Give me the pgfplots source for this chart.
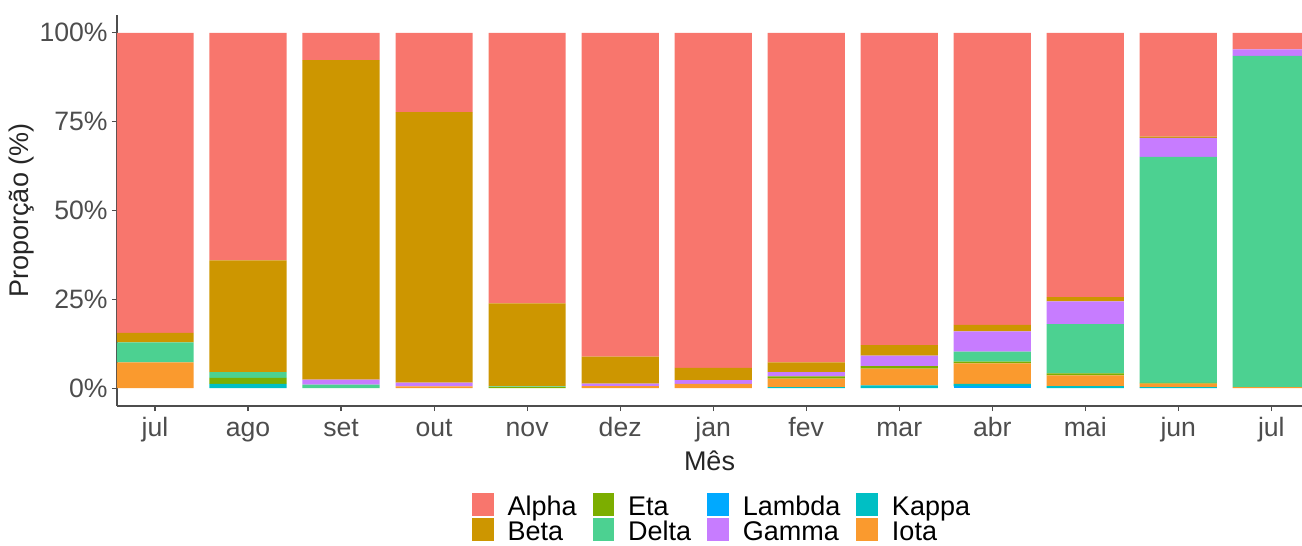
\documentclass[border=0pt]{standalone}
\usepackage{fontspec}
\setmainfont{Liberation Sans}
\usepackage{pgfplots}
\usepackage{pgfplotstable}
\pgfplotsset{compat=1.18}
\definecolor{cAlpha}{HTML}{F8766D}
\definecolor{cBeta}{HTML}{CD9600}
\definecolor{cEta}{HTML}{7CAE00}
\definecolor{cDelta}{HTML}{4CD191}
\definecolor{cLambda}{HTML}{00A9FF}
\definecolor{cGamma}{HTML}{C77CFF}
\definecolor{cKappa}{HTML}{00BFC4}
\definecolor{cIota}{HTML}{FA9A2E}
\definecolor{tickgray}{HTML}{4D4D4D}
\pgfplotstableread{
x Lambda Kappa Iota Eta Delta Gamma Beta Alpha
0  0    0    7.3  0    5.6  0    2.7  84.4
1  0    1.2  0    1.7  1.6  0    31.5 64.0
2  0    0    0    0    1.0  1.4  89.9 7.7
3  0    0    0.5  0    0    1.1  76.1 22.3
4  0    0    0    0.3  0.2  0    23.4 76.1
5  0    0    0.6  0    0    0.7  7.6  91.1
6  0    0    1.2  0    0    1.1  3.4  94.3
7  0    0.3  2.4  0.6  0    1.2  2.8  92.7
8  0    0.8  4.7  0.7  0    3.0  2.9  87.9
9  0.5  0.7  5.8  0.5  2.8  5.7  1.8  82.2
10 0    0.6  3.0  0.6  13.8 6.4  1.2  74.4
11 0    0.3  1.0  0.2  63.6 5.3  0.4  29.2
12 0    0    0.3  0    93.2 1.8  0    4.7
}\data
\newcommand\ls{\rule[-2.6pt]{0pt}{12.6pt}}
\pgfplotsset{legsq/.style={legend image code/.code={\fill[##1, draw=none] (0pt,-4.5pt) rectangle (10.8pt,7pt);}}}
\begin{document}
\begin{tikzpicture}
\begin{axis}[
  scale only axis, width=592.5pt, height=195.5pt,
  xmin=-0.409, xmax=12.33, ymin=-5, ymax=105,
  ybar stacked, bar width=0.83,
  axis lines=left, axis line style={-, draw=tickgray, line width=0.6pt},
  xtick={0,...,12},
  xticklabels={jul,ago,set,out,nov,dez,jan,fev,mar,abr,mai,jun,jul},
  ytick={0,25,50,75,100},
  yticklabels={0\%,25\%,50\%,75\%,100\%},
  tick align=outside, major tick length=2.5pt,
  tick style={draw=tickgray, line width=0.6pt},
  /pgf/number format/assume math mode=true,
  ticklabel style={font=\fontsize{13.3}{15}\selectfont, text=tickgray},
  xticklabel style={inner sep=3pt, text height=9.6pt, text depth=2.8pt},
  yticklabel style={inner sep=2pt},
  xlabel={Mês}, ylabel={Proporção (\%)},
  label style={font=\fontsize{13.5}{15}\selectfont, text=black!85},
  xlabel style={at={(axis description cs:0.5,-0.1407)}, anchor=center},
  ylabel style={at={(axis description cs:-0.0802,0.5)}, anchor=center},
  legend style={at={(0.5097,-0.210)}, anchor=north, draw=none, fill=none,
    font=\fontsize{13.5}{15}\selectfont, row sep=0.1pt,
    nodes={inner sep=0pt},
    /tikz/every odd column/.append style={column sep=7pt},
    /tikz/every even column/.append style={column sep=8pt}},
  legend columns=4, legend cell align=left,
]
\addlegendimage{legsq, fill=cAlpha}\addlegendentry{\ls Alpha}
\addlegendimage{legsq, fill=cEta}\addlegendentry{\ls Eta}
\addlegendimage{legsq, fill=cLambda}\addlegendentry{\ls Lambda}
\addlegendimage{legsq, fill=cKappa}\addlegendentry{\ls Kappa}
\addlegendimage{legsq, fill=cBeta}\addlegendentry{\ls Beta}
\addlegendimage{legsq, fill=cDelta}\addlegendentry{\ls Delta}
\addlegendimage{legsq, fill=cGamma}\addlegendentry{\ls Gamma}
\addlegendimage{legsq, fill=cIota}\addlegendentry{\ls Iota}
\addplot[fill=cLambda, draw=none, forget plot] table[x=x, y=Lambda] {\data};
\addplot[fill=cKappa, draw=none, forget plot] table[x=x, y=Kappa] {\data};
\addplot[fill=cIota, draw=none, forget plot] table[x=x, y=Iota] {\data};
\addplot[fill=cEta, draw=none, forget plot] table[x=x, y=Eta] {\data};
\addplot[fill=cDelta, draw=none, forget plot] table[x=x, y=Delta] {\data};
\addplot[fill=cGamma, draw=none, forget plot] table[x=x, y=Gamma] {\data};
\addplot[fill=cBeta, draw=none, forget plot] table[x=x, y=Beta] {\data};
\addplot[fill=cAlpha, draw=none, forget plot] table[x=x, y=Alpha] {\data};
\end{axis}
\pgfresetboundingbox
\path[use as bounding box] (-58.5pt,-70pt) rectangle (592.5pt,203pt);
\end{tikzpicture}
\end{document}
